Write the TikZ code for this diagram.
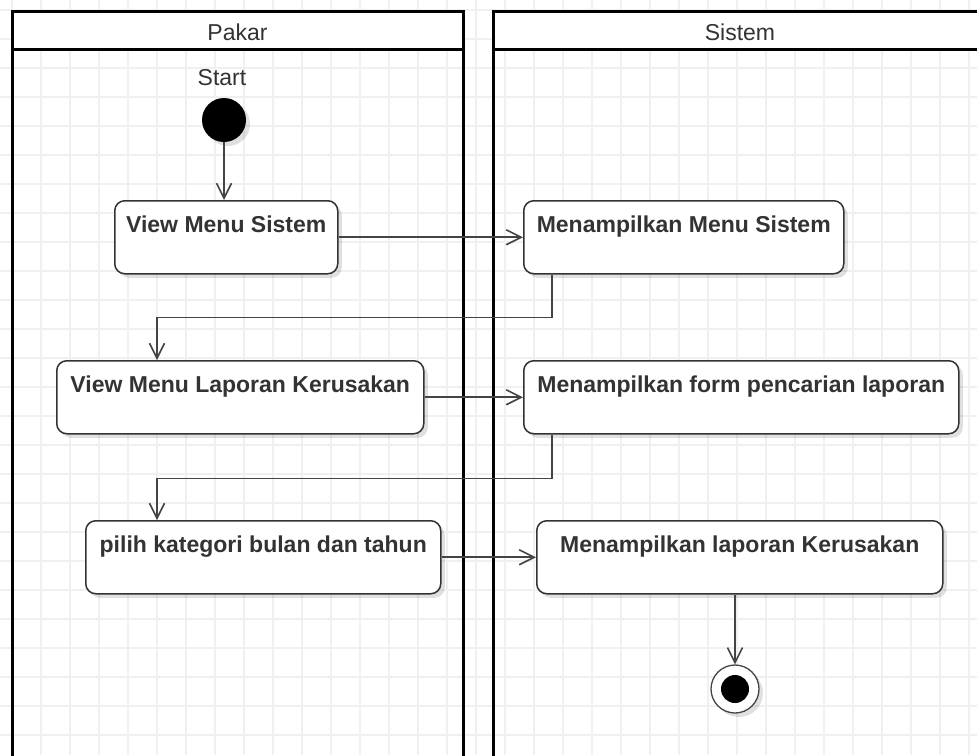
\documentclass[tikz,border=0pt]{standalone}
\usepackage{fontspec}
\setmainfont{Liberation Sans}
\usetikzlibrary{arrows.meta,shadows}

\definecolor{ink}{HTML}{333333}
\definecolor{wire}{HTML}{444444}
\definecolor{gridc}{HTML}{F0F0F0}

\begin{document}
\begin{tikzpicture}[x=1pt,y=-1pt,
  gridline/.style={draw=gridc, line width=1.6pt},
  lane/.style={draw=black, line width=3pt},
  title/.style={font=\fontsize{23}{27}\selectfont, text=ink, inner sep=0pt},
  boxtext/.style={font=\fontsize{23}{27}\selectfont\bfseries, text=ink, inner sep=0pt},
  softshadow/.style={drop shadow={shadow xshift=4pt, shadow yshift=-4pt, opacity=0.12, fill=black}},
  action/.style={draw=ink, line width=1.5pt, rounded corners=10pt, fill=white,
    minimum height=73pt, inner sep=0pt, anchor=north west, softshadow},
  flow/.style={draw=wire, line width=1.6pt, -{Straight Barb[length=15pt,width=15pt,line width=1.6pt]}},
]
\useasboundingbox (0,0) rectangle (977,755);
\clip (0,0) rectangle (977,755);
\fill[white] (0,0) rectangle (977,755);

% background grid
\foreach \x in {12,41,...,969} \draw[gridline] (\x,0) -- (\x,755);
\foreach \y in {10,39,...,735} \draw[gridline] (0,\y) -- (977,\y);

% swimlanes
\fill[white] (12,11) rectangle (463,49);
\fill[white] (493,11) rectangle (987,49);
\draw[lane] (12,770) -- (12,11) -- (463,11) -- (463,770);
\draw[lane] (12,49) -- (463,49);
\draw[lane] (493,770) -- (493,11) -- (990,11);
\draw[lane] (493,49) -- (990,49);
\node[title, anchor=base] (lanePakar) at (237.5,40) {Pakar};
\node[title, anchor=base] (laneSistem) at (740,40) {Sistem};

% initial node
\node[title, anchor=base] (startlbl) at (222,85) {Start};
\node[circle, fill=black, minimum size=44pt, inner sep=0pt, softshadow] (start) at (224,120) {};

% actions
\node[action, minimum width=223pt,
  label={[boxtext,anchor=base,yshift=-32pt]north:View Menu Sistem}] (vms) at (114,200) {};
\node[action, minimum width=320pt,
  label={[boxtext,anchor=base,yshift=-32pt]north:Menampilkan Menu Sistem}] (mms) at (523,200) {};
\node[action, minimum width=367pt,
  label={[boxtext,anchor=base,yshift=-32pt]north:View Menu Laporan Kerusakan}] (vmlk) at (56,360) {};
\node[action, minimum width=435pt,
  label={[boxtext,anchor=base,yshift=-32pt]north:Menampilkan form pencarian laporan}] (mfp) at (523,360) {};
\node[action, minimum width=355pt,
  label={[boxtext,anchor=base,yshift=-32pt]north:pilih kategori bulan dan tahun}] (pilih) at (85,520) {};
\node[action, minimum width=406pt,
  label={[boxtext,anchor=base,yshift=-32pt]north:Menampilkan laporan Kerusakan}] (mlk) at (536,520) {};

% final node
\node[circle, draw=wire, line width=1.3pt, fill=white, minimum size=48pt, inner sep=0pt, softshadow,
  path picture={\fill[black] (path picture bounding box.center) circle (14pt);}] (stop) at (735,689) {};

% control flow
\draw[flow] (start) -- (start |- vms.north);
\draw[flow] (vms.east) -- (mms.west);
\draw[flow] ([xshift=29pt]mms.south west) -- ++(0,43) -| ([xshift=101pt]vmlk.north west);
\draw[flow] (vmlk.east) -- (mfp.west);
\draw[flow] ([xshift=29pt]mfp.south west) -- ++(0,44) -| ([xshift=72pt]pilih.north west);
\draw[flow] (pilih.east) -- (mlk.west);
\draw[flow] (stop |- mlk.south) -- (stop);
\end{tikzpicture}
\end{document}
